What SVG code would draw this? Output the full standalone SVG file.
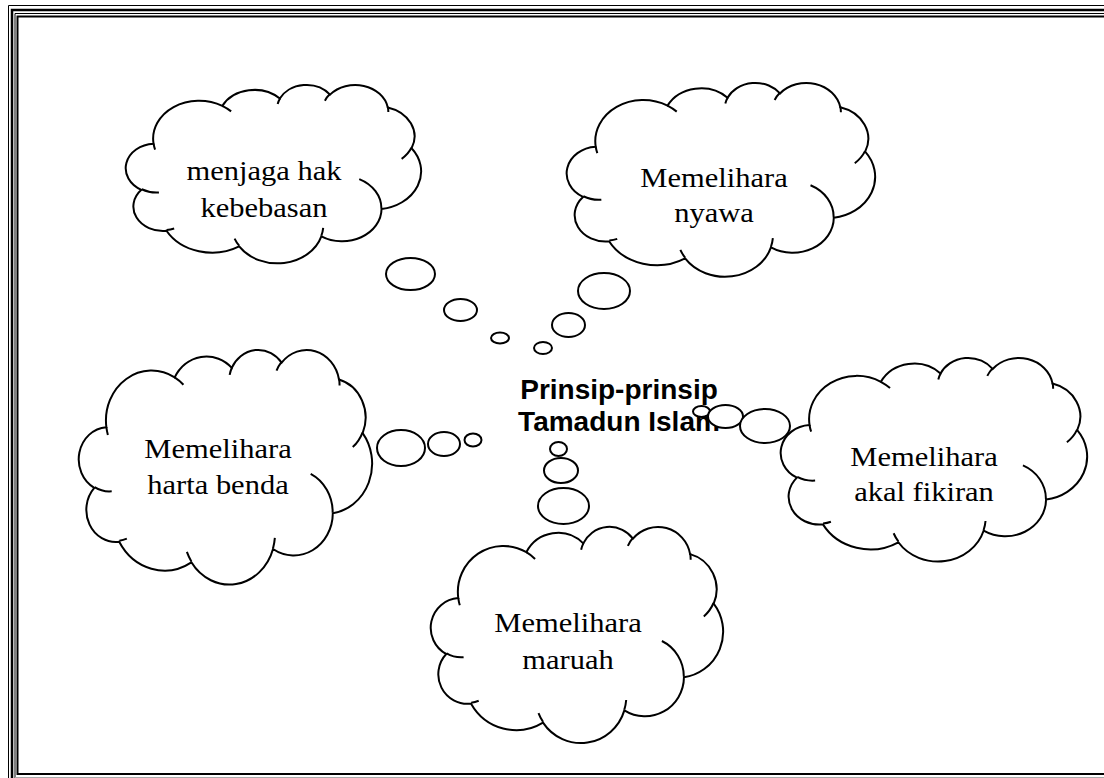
<svg xmlns="http://www.w3.org/2000/svg" xmlns:xlink="http://www.w3.org/1999/xlink" width="1104" height="778" viewBox="0 0 1104 778">
<style>
.cloud{fill:#fff;stroke:#000;stroke-width:2;vector-effect:non-scaling-stroke}
.inner{fill:none;stroke:#000;stroke-width:2;vector-effect:non-scaling-stroke}
.ct{font-family:"Liberation Serif","Times New Roman",serif;font-size:28px;text-anchor:middle;fill:#000}
.hd{font-family:"Liberation Sans",Arial,sans-serif;font-size:28px;font-weight:bold;text-anchor:middle;fill:#000}
.bub{fill:#fff;stroke:#000;stroke-width:2}
.fr{fill:none;stroke:#000}
</style>
<defs>
<path id="cloudOuter" class="cloud" d="M9.03,33.26 A15.63,21.27 0 0 1 32.42,12.04 A12.34,16.82 0 0 1 51.98,7.94 A10.10,13.76 0 0 1 69.06,5.74 A11.24,15.27 0 0 1 88.70,12.91 A12.34,16.84 0 0 1 96.80,35.79 A15.68,21.34 0 0 1 86.58,69.92 A13.39,18.21 0 0 1 66.10,85.22 A15.63,21.33 0 0 1 38.15,90.89 A17.87,24.41 0 0 1 13.43,82.11 A10.09,13.70 0 0 1 4.89,59.14 A10.06,13.76 0 0 1 9.03,33.26 Z"/>
<path id="cloudInner" class="inner" d="M10.86,60.59 A10.06,13.76 0 0 1 5.00,58.80 M16.04,80.78 A10.09,13.70 0 0 1 13.47,81.67 M38.14,90.49 A15.63,21.33 0 0 1 36.60,86.46 M66.73,80.44 A15.63,21.33 0 0 1 66.11,84.86 M79.00,53.13 A13.39,18.21 0 0 1 86.53,69.65 M96.75,35.54 A12.34,16.84 0 0 1 93.41,41.74 M88.71,12.56 A11.24,15.27 0 0 1 88.89,15.49 M67.31,9.15 A11.24,15.27 0 0 1 69.03,5.42 M51.25,10.93 A10.10,13.76 0 0 1 52.08,7.71 M32.41,12.02 A15.63,21.27 0 0 1 35.42,15.14 M9.55,36.55 A15.63,21.27 0 0 1 9.03,33.26"/>
</defs>
<rect width="1104" height="778" fill="#fff"/>
<g id="frame">
<path class="fr" stroke-width="1" d="M8.5,778 V5.5 H1104"/>
<path class="fr" stroke-width="2.5" d="M12,778 V10 H1104"/>
<path class="fr" stroke-width="1" d="M15,778 V13.5 H1104"/>
<path class="fr" stroke-width="2" d="M1104,16.5 H17.5 V774 H1104"/>
<path fill="none" stroke="#aaa" stroke-width="1" d="M15,777.5 H1104"/>
</g>
<g id="cloud-kebebasan">
<g transform="translate(127,84.4) scale(2.94,1.783)"><use xlink:href="#cloudOuter"/><use xlink:href="#cloudInner"/></g>
<text class="ct" transform="translate(264,0) scale(1.09,1)"><tspan x="0" y="180">menjaga hak</tspan><tspan x="0" y="217">kebebasan</tspan></text>
</g>
<g id="cloud-nyawa">
<g transform="translate(568,82.3) scale(3.07,1.938)"><use xlink:href="#cloudOuter"/><use xlink:href="#cloudInner"/></g>
<text class="ct" transform="translate(714,0) scale(1.09,1)"><tspan x="0" y="187">Memelihara</tspan><tspan x="0" y="222">nyawa</tspan></text>
</g>
<g id="cloud-harta">
<g transform="translate(80,349.2) scale(2.92,2.345)"><use xlink:href="#cloudOuter"/><use xlink:href="#cloudInner"/></g>
<text class="ct" transform="translate(218,0) scale(1.09,1)"><tspan x="0" y="458">Memelihara</tspan><tspan x="0" y="494">harta benda</tspan></text>
</g>
<g id="cloud-akal">
<g transform="translate(782,357.3) scale(3.05,2.035)"><use xlink:href="#cloudOuter"/><use xlink:href="#cloudInner"/></g>
<text class="ct" transform="translate(924,0) scale(1.09,1)"><tspan x="0" y="466">Memelihara</tspan><tspan x="0" y="501">akal fikiran</tspan></text>
</g>
<g id="cloud-maruah">
<g transform="translate(432,526.2) scale(2.91,2.161)"><use xlink:href="#cloudOuter"/><use xlink:href="#cloudInner"/></g>
<text class="ct" transform="translate(568,0) scale(1.09,1)"><tspan x="0" y="632">Memelihara</tspan><tspan x="0" y="669">maruah</tspan></text>
</g>
<g id="center">
<text class="hd"><tspan x="619" y="399">Prinsip-prinsip</tspan><tspan x="619" y="431">Tamadun Islam</tspan></text>
</g>
<g id="connectors">
<ellipse class="bub" cx="410.5" cy="274" rx="24.5" ry="16"/>
<ellipse class="bub" cx="460.5" cy="310" rx="16.5" ry="11"/>
<ellipse class="bub" cx="500" cy="338" rx="9" ry="5.5"/>
<ellipse class="bub" cx="543" cy="348" rx="9" ry="6"/>
<ellipse class="bub" cx="568.5" cy="325" rx="16.5" ry="12"/>
<ellipse class="bub" cx="604" cy="291" rx="26" ry="18"/>
<ellipse class="bub" cx="401" cy="448" rx="24" ry="18"/>
<ellipse class="bub" cx="444" cy="444" rx="16" ry="12"/>
<ellipse class="bub" cx="473" cy="440" rx="8.5" ry="6.5"/>
<ellipse class="bub" cx="558.5" cy="449" rx="8.5" ry="7"/>
<ellipse class="bub" cx="561" cy="470.5" rx="17" ry="12.5"/>
<ellipse class="bub" cx="563.5" cy="506" rx="25.5" ry="18"/>
<ellipse class="bub" cx="701.5" cy="411.5" rx="8.5" ry="5.5"/>
<ellipse class="bub" cx="725.5" cy="416.5" rx="17.5" ry="11.5"/>
<ellipse class="bub" cx="765" cy="426" rx="25" ry="17"/>
</g>
</svg>
